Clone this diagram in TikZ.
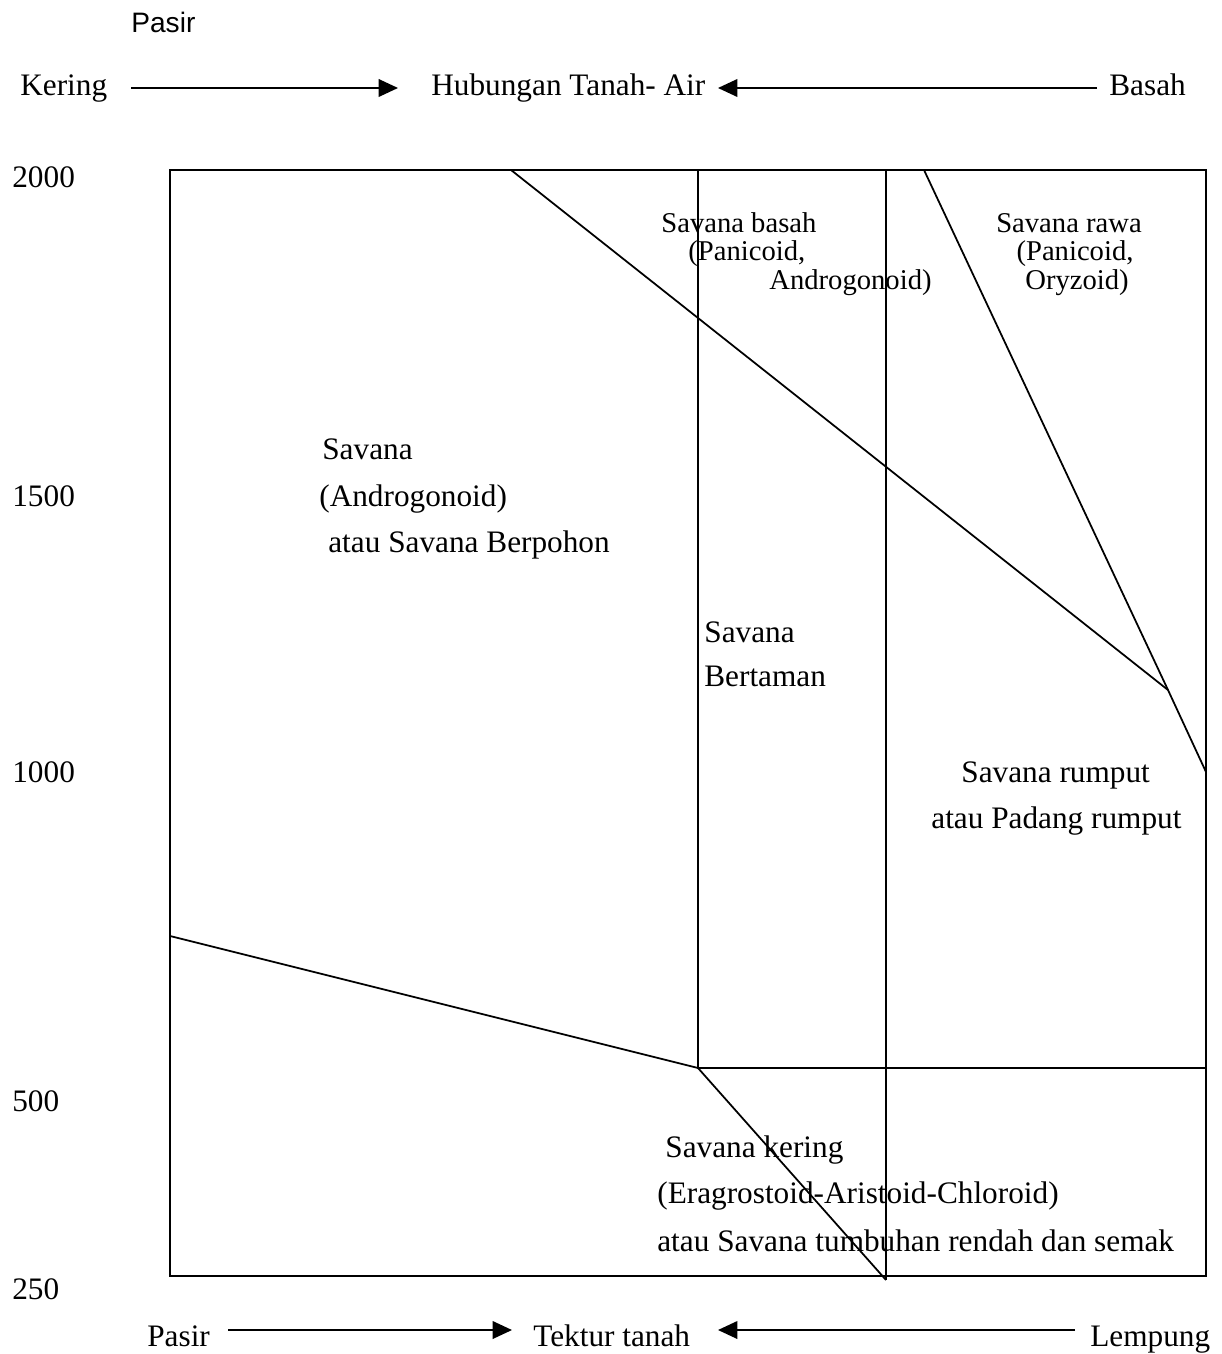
\documentclass[tikz,border=0pt]{standalone}
\usepackage{fontspec}
\setmainfont{Liberation Serif}
\newfontfamily\sansf{Liberation Sans}
\usetikzlibrary{arrows.meta}
\begin{document}
\begin{tikzpicture}[x=0.02cm,y=-0.02cm,
    every node/.style={inner sep=0pt,font=\fontsize{17.8}{20}\selectfont},
    lbl/.style={anchor=base west},
    mid/.style={anchor=base},
    small/.style={font=\fontsize{16.3}{18}\selectfont},
    ln/.style={line width=1pt},
    arr/.style={line width=1pt,-{Triangle[length=11pt,width=10pt]}}]
    \useasboundingbox (0,0) rectangle (1222,1354);
    % frame and corners
    \coordinate (TL) at (170,170);
    \coordinate (TR) at (1206,170);
    \coordinate (BR) at (1206,1276);
    \coordinate (BL) at (170,1276);
    \coordinate (P1) at (698,170);
    \coordinate (P2) at (886,170);
    \coordinate (P3) at (698,1068);
    \coordinate (P4) at (1206,1068);
    \coordinate (P5) at (886,1280);
    \coordinate (Q1) at (511,170);
    \coordinate (Q2) at (924,170);
    \coordinate (Q3) at (1168,690);
    \coordinate (Q4) at (1206,772);
    \coordinate (Q5) at (170,936);
    \draw[ln] (TL) -- (TR) -- (BR) -- (BL) -- cycle;
    \draw[ln] (P1) -- (P3) -- (P4);
    \draw[ln] (P2) -- (P5);
    \draw[ln] (Q1) -- (Q3);
    \draw[ln] (Q2) -- (Q3) -- (Q4);
    \draw[ln] (Q5) -- (P3) -- (P5);
    % axis values
    \node[lbl] (y2000) at (12,188) {2000};
    \node[lbl] (y1500) at (12,506) {1500};
    \node[lbl] (y1000) at (12,782) {1000};
    \node[lbl] (y500) at (12,1111) {500};
    \node[lbl] (y250) at (12,1299) {250};
    % top scale
    \node[lbl,font=\sansf\fontsize{16}{19}\selectfont] (pasirtop) at (131,33) {Pasir};
    \node[lbl] (kering) at (20,96) {Kering};
    \node[lbl] (hubungan) at (431,96) {Hubungan Tanah- Air};
    \node[lbl] (basah) at (1109,96) {Basah};
    \coordinate (a1) at (131,88);
    \coordinate (a2) at (398,88);
    \coordinate (a3) at (1097,88);
    \coordinate (a4) at (718,88);
    \draw[arr] (a1) -- (a2);
    \draw[arr] (a3) -- (a4);
    % bottom scale
    \node[lbl] (pasir) at (147,1346) {Pasir};
    \node[lbl] (tektur) at (533,1346) {Tektur tanah};
    \node[lbl] (lempung) at (1090,1346) {Lempung};
    \coordinate (b1) at (228,1330);
    \coordinate (b2) at (512,1330);
    \coordinate (b3) at (1075,1330);
    \coordinate (b4) at (718,1330);
    \draw[arr] (b1) -- (b2);
    \draw[arr] (b3) -- (b4);
    % zones
    \node[lbl] (sav1) at (322,459) {Savana};
    \node[lbl] (sav2) at (319,506) {(Androgonoid)};
    \node[lbl] (sav3) at (328,552) {atau Savana Berpohon};
    \node[lbl,small] (basah1) at (661,233) {Savana basah};
    \node[lbl,small] (basah2) at (688,261) {(Panicoid,};
    \node[lbl,small] (basah3) at (769,290) {Androgonoid)};
    \node[mid,small] (rawa1) at (1069,233) {Savana rawa};
    \node[mid,small] (rawa2) at (1075,261) {(Panicoid,};
    \node[mid,small] (rawa3) at (1077,290) {Oryzoid)};
    \node[lbl] (taman1) at (704,642) {Savana};
    \node[lbl] (taman2) at (704,686) {Bertaman};
    \node[lbl] (rumput1) at (961,782) {Savana rumput};
    \node[lbl] (rumput2) at (931,828) {atau Padang rumput};
    \node[lbl] (kering1) at (665,1157) {Savana kering};
    \node[lbl] (kering2) at (657,1203) {(Eragrostoid-Aristoid-Chloroid)};
    \node[lbl] (kering3) at (657,1251) {atau Savana tumbuhan rendah dan semak};
\end{tikzpicture}
\end{document}
